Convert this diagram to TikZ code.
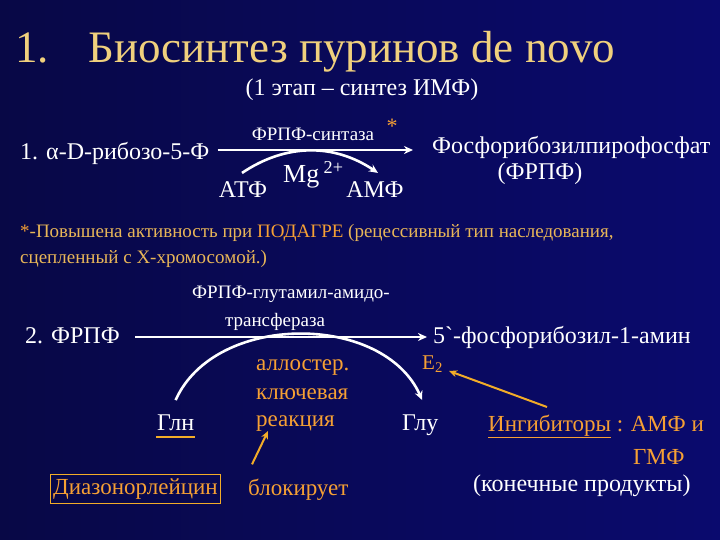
\documentclass[tikz,border=0pt]{standalone}
\usepackage{fontspec}
\setmainfont{Liberation Serif}
\newfontfamily\slidefont{Liberation Serif}
\newfontfamily\spareserif{DejaVu Serif}
\newfontfamily\sparesans{Liberation Sans}
\usepackage{tikz}
\usetikzlibrary{arrows.meta}

\definecolor{bgdark}{RGB}{8,8,70}
\definecolor{bgnavy}{RGB}{10,10,110}
\definecolor{titlegold}{RGB}{240,208,125}
\definecolor{notegold}{RGB}{232,182,88}
\definecolor{hotorange}{RGB}{246,160,52}
\definecolor{linkorange}{RGB}{242,172,40}

\begin{document}
\begin{tikzpicture}[x=1pt,y=-1pt]
	\useasboundingbox (0,0) rectangle (720,540);
	\shade[left color=bgdark,right color=bgnavy] (0,0) rectangle (720,540);

	% title
	\begin{scope}[every node/.style={inner sep=0pt,anchor=base west,text=titlegold,font=\slidefont\fontsize{45}{45}\selectfont}]
		\node (1) at (15,63) {1.};
		\node (2) at (88,63) {Биосинтез пуринов de novo};
	\end{scope}

	% stage 1
	\begin{scope}[every node/.style={inner sep=0pt,anchor=base west,text=white,font=\slidefont\fontsize{24}{24}\selectfont}]
		\node[anchor=base] (3) at (362,96) {(1 этап – синтез ИМФ)};
		\node (4) at (20,160) {1. α-D-рибозо-5-Ф};
		\node[anchor=base,font=\slidefont\fontsize{19}{19}\selectfont] (5) at (313,141) {ФРПФ-синтаза};
		\node (6) at (432,154) {Фосфорибозилпирофосфат};
		\node[anchor=base] (7) at (540,180) {(ФРПФ)};
		\node[font=\slidefont\fontsize{26}{26}\selectfont] (8) at (283,183) {Mg\,\textsuperscript{2+}};
		\node[anchor=base] (9) at (243,197) {АТФ};
		\node[anchor=base] (10) at (375,197) {АМФ};
		\node[anchor=base,text=hotorange,font=\slidefont\fontsize{22}{22}\selectfont] (11) at (392,134) {*};
	\end{scope}

	% note
	\begin{scope}[every node/.style={inner sep=0pt,anchor=base west,text=notegold,font=\slidefont\fontsize{19}{19}\selectfont}]
		\node (12) at (20,237) {\textcolor{hotorange}{*}-Повышена активность при \textcolor{hotorange}{ПОДАГРЕ} (рецессивный тип наследования,};
		\node (13) at (20,263) {сцепленный с Х-хромосомой.)};
	\end{scope}

	% stage 2
	\begin{scope}[every node/.style={inner sep=0pt,anchor=base west,text=white,font=\slidefont\fontsize{24}{24}\selectfont}]
		\node[anchor=base,font=\slidefont\fontsize{19}{19}\selectfont] (14) at (291,298) {ФРПФ-глутамил-амидо-};
		\node[anchor=base,font=\slidefont\fontsize{19}{19}\selectfont] (15) at (275,326) {трансфераза};
		\node (16) at (25,343) {2. ФРПФ};
		\node (17) at (433,343) {5`-фосфорибозил-1-амин};
		\node (18) at (157,430) {Глн};
		\node (19) at (402,430) {Глу};
		\node (20) at (473,491) {(конечные продукты)};
	\end{scope}

	\begin{scope}[every node/.style={inner sep=0pt,anchor=base west,text=hotorange,font=\slidefont\fontsize{23}{23}\selectfont}]
		\node[font=\slidefont\fontsize{21}{21}\selectfont] (21) at (422,369) {E\textsubscript{2}};
		\node (22) at (256,370) {аллостер.};
		\node (23) at (256,399) {ключевая};
		\node (24) at (256,426) {реакция};
		\node (25) at (488,431) {\underline{Ингибиторы} : АМФ и};
		\node (26) at (633,464) {ГМФ};
		\node (27) at (248,495) {блокирует};
		\node[anchor=center,draw=linkorange,line width=0.8pt,inner xsep=3pt,inner ysep=4pt] (28) at (135.5,489) {Диазонорлейцин};
	\end{scope}

	% connectors
	\begin{scope}[>={Stealth[length=9pt,width=8pt]},
	              every path/.style={draw=white,line width=2.6pt}]
		\draw[->] ([shift={(8,-10)}]4.base east) -- ([shift={(-19,-10)}]4.base east -| 6.base west);
		\draw[->] ([shift={(-1,-8)}]9.north) to[bend left=34] ([shift={(3,-8)}]10.north);
		\draw[->] ([shift={(15,-6)}]16.base east) -- ([shift={(-6,-6)}]17.base west);
		\draw[->] ([shift={(0,-14)}]18.north) to[bend left=66] ([shift={(2,-14)}]19.north);
	\end{scope}

	\begin{scope}[>={Stealth[length=8pt,width=7pt]},
	              every path/.style={draw=linkorange,line width=2pt}]
		\draw ([shift={(-1,7)}]18.base west) -- ([shift={(1,7)}]18.base east);
		\draw[->] ([shift={(4,-14)}]27.north west) -- ([shift={(12,5)}]24.base west);
		\draw[->] ([shift={(59,-24)}]25.base west) -- ([shift={(6,2)}]21.base east);
	\end{scope}
\end{tikzpicture}
\end{document}
